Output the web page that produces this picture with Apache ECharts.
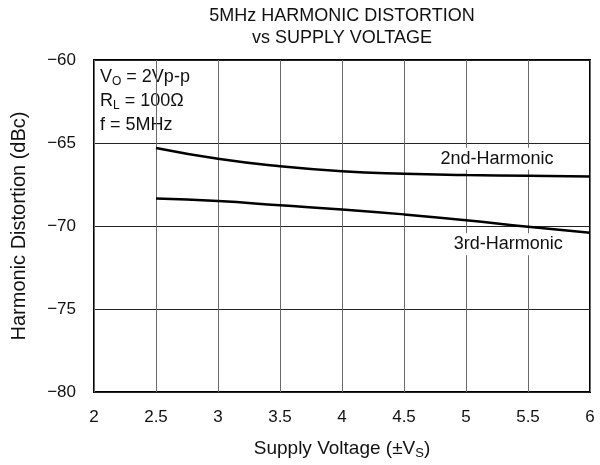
<!DOCTYPE html>
<html>
<head>
<meta charset="utf-8">
<script src="https://cdn.jsdelivr.net/npm/echarts@6/dist/echarts.min.js"></script>
<style>
  html, body { margin: 0; padding: 0; background: #fff; }
  #chart { width: 600px; height: 465px; }
</style>
</head>
<body>
<div id="chart"></div>
<script>
// supply voltage (±Vs)
const voltages = [2.5, 3, 3.5, 4, 4.5, 5, 5.5, 6]
// harmonic distortion, dBc
const second = [-65.3, -65.95, -66.4, -66.7, -66.85, -66.93, -66.98, -67.02]
const third = [-68.35, -68.5, -68.75, -69.0, -69.3, -69.65, -70.05, -70.4]
const xTicks = [2, 6, 0.5]
const yTicks = [-80, -60, 5]

const font = '"Liberation Sans", Arial, sans-serif'
const chart = echarts.init(document.getElementById('chart'))

function pairs(ys) {
  return voltages.map((v, i) => [v, ys[i]])
}

function curveLabel(text, coord) {
  return {
    silent: true,
    symbol: 'rect',
    symbolSize: 1,
    itemStyle: { color: 'rgba(0,0,0,0)' },
    data: [{
      coord: coord,
      label: {
        show: true,
        position: 'inside',
        formatter: text,
        color: '#111',
        fontFamily: font,
        fontSize: 18,
        backgroundColor: '#fff',
        padding: [2, 3]
      }
    }]
  }
}

chart.setOption({
  animation: false,
  textStyle: { fontFamily: font },
  grid: {
    left: 94, right: 10, top: 60, bottom: 69,
    show: true,
    borderColor: '#000',
    borderWidth: 2
  },
  graphic: [
    {
      type: 'text', x: 342, y: 5,
      style: {
        text: '5MHz HARMONIC DISTORTION\nvs SUPPLY VOLTAGE',
        align: 'center', fill: '#111',
        fontSize: 18, fontFamily: font, lineHeight: 22
      }
    },
    {
      type: 'text', x: 100, y: 65,
      style: {
        text: '{n|V}{s|O}{n| = 2Vp-p}\n{n|R}{s|L}{n| = 100Ω}\n{n|f = 5MHz}',
        fill: '#111',
        rich: {
          n: { fontSize: 18, fontFamily: font, lineHeight: 24, fill: '#111' },
          s: { fontSize: 12, fontFamily: font, lineHeight: 24, padding: [9, 0, 0, 0], fill: '#111' }
        }
      }
    }
  ],
  xAxis: {
    type: 'value',
    min: xTicks[0], max: xTicks[1], interval: xTicks[2],
    name: '{n|Supply Voltage (±V}{s|S}{n|)}',
    nameLocation: 'middle',
    nameGap: 45,
    nameTextStyle: {
      rich: {
        n: { fontSize: 19, fontFamily: font, color: '#111' },
        s: { fontSize: 13, fontFamily: font, padding: [10, 0, 0, 0], color: '#111' }
      }
    },
    axisLine: { show: false },
    axisTick: { show: false },
    axisLabel: { color: '#111', fontSize: 17, fontFamily: font, margin: 17 },
    splitLine: { lineStyle: { color: '#6a6a6a', width: 1 } }
  },
  yAxis: {
    type: 'value',
    min: yTicks[0], max: yTicks[1], interval: yTicks[2],
    name: 'Harmonic Distortion (dBc)',
    nameLocation: 'middle',
    nameGap: 65,
    nameTextStyle: { color: '#111', fontSize: 20, fontFamily: font },
    axisLine: { show: false },
    axisTick: { show: false },
    axisLabel: {
      color: '#111', fontSize: 17, fontFamily: font, margin: 18,
      formatter: v => String(v).replace('-', '\u2212')
    },
    splitLine: { lineStyle: { color: '#222', width: 1 } }
  },
  series: [
    {
      type: 'line', data: pairs(second), smooth: true,
      symbol: 'none',
      lineStyle: { color: '#000', width: 2.5 },
      markPoint: curveLabel('2nd-Harmonic', [5.25, -65.95])
    },
    {
      type: 'line', data: pairs(third), smooth: true,
      symbol: 'none',
      lineStyle: { color: '#000', width: 2.5 },
      markPoint: curveLabel('3rd-Harmonic', [5.34, -71.1])
    }
  ]
})
</script>
</body>
</html>
